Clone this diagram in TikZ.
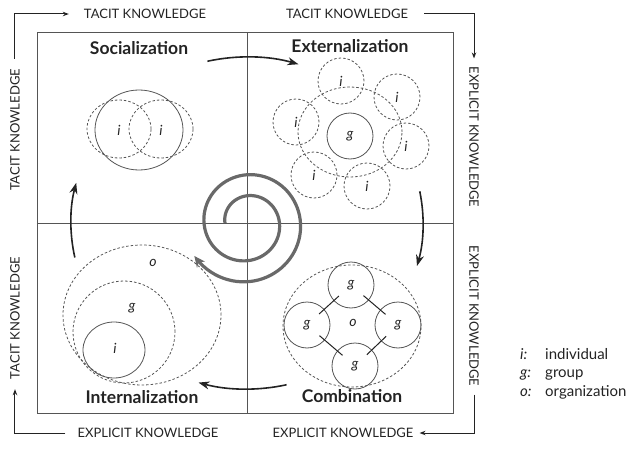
\documentclass[tikz,border=0pt]{standalone}
\usepackage{fontspec}
\setmainfont{Lato}
\usetikzlibrary{arrows.meta,positioning}

\begin{document}
\begin{tikzpicture}[x=1pt, y=1pt,
  knowlabel/.style={font=\fontsize{13}{15}\selectfont, text=ink, inner sep=0pt},
  modetitle/.style={font=\fontsize{17.5}{20}\selectfont\bfseries, text=ink, inner sep=0pt},
  member/.style={font=\fontsize{14}{16}\selectfont\itshape, text=ink, inner sep=0pt},
  keytext/.style={font=\fontsize{15}{17}\selectfont, text=ink, inner sep=0pt, anchor=base west},
  keyletter/.style={keytext, font=\fontsize{15}{17}\selectfont\itshape},
  solidring/.style={draw=ring, line width=0.8pt},
  dashring/.style={draw=ring, line width=0.8pt, dash pattern=on 2.5pt off 2pt},
  groupnode/.style={circle, draw=ring, line width=0.8pt, minimum size=46pt, inner sep=0pt,
    font=\fontsize{14}{16}\selectfont\itshape, text=ink},
  grouplink/.style={draw=ink, line width=1pt, shorten <=-7pt, shorten >=-7pt},
  cyclearrow/.style={draw=ink, line width=1.6pt, -{Stealth[length=11pt,width=8pt]}},
  knowarrow/.style={draw=ink, line width=1pt, -{Stealth[length=6pt,width=4.5pt]}},
]
% SECI cycle: four quadrants, a spiral in the middle, curved arrows
% between the modes and the tacit/explicit axes round the frame.
\definecolor{ink}{RGB}{35, 35, 35}
\definecolor{ring}{RGB}{85, 85, 85}
\definecolor{spiral}{RGB}{105, 105, 105}
\useasboundingbox (-247,-243) rectangle (385,223);

% frame and quadrant split
\draw[ring, line width=0.8pt] (-210,-190) rectangle (206,191);
\draw[ring, line width=0.8pt] (-210,0) -- (206,0) (0,-190) -- (0,191);

% mode titles
\node[modetitle] (soc) at (-108,175) {Socialization};
\node[modetitle] (ext) at (103,177) {Externalization};
\node[modetitle] (int) at (-105,-174) {Internalization};
\node[modetitle] (cmb) at (105,-173) {Combination};

% socialization: two individuals sharing one space
\draw[solidring] (-108,93) ellipse [x radius=44, y radius=40];
\foreach \x/\n in {-128/a, -86/b} {
  \draw[dashring] (\x,94) ellipse [x radius=32, y radius=29];
  \node[member] (socI\n) at (\x,93) {i};
}

% externalization: individuals round a group
\draw[dashring] (103,91) ellipse [x radius=52, y radius=45];
\foreach \x/\y/\n in {94/142/1, 150/126/2, 49/101/3, 159/77/4, 67/48/5, 120/37/6} {
  \draw[dashring] (\x,\y) circle (23);
  \node[member] (extI\n) at (\x,\y) {i};
}
\node[groupnode] (extG) at (103,87) {g};

% internalization: nested organization, group, individual
\draw[dashring] (-105,-92) ellipse [x radius=79, y radius=70];
\draw[dashring] (-123,-109) circle (51);
\draw[solidring] (-133,-127) ellipse [x radius=31, y radius=28];
\node[member] (intO) at (-94,-40) {o};
\node[member] (intG) at (-115,-85) {g};
\node[member] (intI) at (-132,-125) {i};

% combination: linked groups inside the organization
\draw[dashring] (105,-103) ellipse [x radius=69, y radius=61];
\node[groupnode] (cmbTop) at (104,-62) {g};
\node[groupnode] (cmbLeft) at (60,-102) {g};
\node[groupnode] (cmbRight) at (151,-102) {g};
\node[groupnode] (cmbBottom) at (108,-143) {g};
\node[member] (cmbO) at (106,-100) {o};
\draw[grouplink] (cmbLeft) -- (cmbTop);
\draw[grouplink] (cmbTop) -- (cmbRight);
\draw[grouplink] (cmbLeft) -- (cmbBottom);
\draw[grouplink] (cmbBottom) -- (cmbRight);

% knowledge spiral
\draw[spiral, line width=3.2pt, -{Stealth[length=11pt,width=10pt]}]
  plot[domain=0:688, samples=160, variable=\t]
  ({(22+21*\t/360)*cos(180-\t)}, {(22+21*\t/360)*sin(180-\t)});

% turning arrows between the modes
\foreach \a/\b in {103/73, 11/-15, -77/-106, 192/166} {
  \draw[cyclearrow] ({176*cos(\a)},{166*sin(\a)})
    arc[start angle=\a, end angle=\b, x radius=176, y radius=166];
}

% axis labels round the frame
\node[knowlabel] (tacitTop) at (-102,209) {TACIT KNOWLEDGE};
\node[knowlabel] (tacitTopR) at (100,209) {TACIT KNOWLEDGE};
\node[knowlabel, rotate=-90] (explRight) at (227,86) {EXPLICIT KNOWLEDGE};
\node[knowlabel, rotate=-90] (explRightB) at (227,-93) {EXPLICIT KNOWLEDGE};
\node[knowlabel] (explBotR) at (96,-210) {EXPLICIT KNOWLEDGE};
\node[knowlabel] (explBotL) at (-99,-210) {EXPLICIT KNOWLEDGE};
\node[knowlabel, rotate=90] (tacitLeft) at (-232,93) {TACIT KNOWLEDGE};
\node[knowlabel, rotate=90] (tacitLeftB) at (-232,-95) {TACIT KNOWLEDGE};

\draw[knowarrow] ([yshift=10pt]tacitLeft.east) |- ([xshift=-15pt]tacitTop.west);
\draw[knowarrow] ([xshift=16pt]tacitTopR.east) -| ([yshift=8pt]explRight.west);
\draw[knowarrow] ([yshift=-8pt]explRightB.east) |- ([xshift=6pt]explBotR.east);
\draw[knowarrow] ([xshift=-12pt]explBotL.west) -| ([yshift=-10pt]tacitLeftB.west);

% key
\node[keyletter] (keyI) at (273,-136) {i:};
\node[keytext] (keyIText) at (298,-136) {individual};
\node[keyletter] (keyG) at (273,-154) {g:};
\node[keytext] (keyGText) at (298,-154) {group};
\node[keyletter] (keyO) at (273,-173) {o:};
\node[keytext] (keyOText) at (298,-173) {organization};
\end{tikzpicture}
\end{document}
